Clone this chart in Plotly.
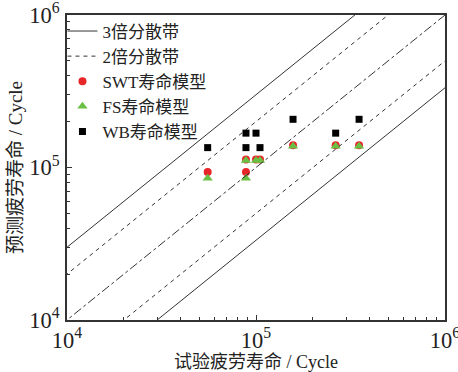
import plotly.graph_objects as go

# Experimental life (x) and predicted life (y) for each model
exp_life = [55500, 88500, 88500, 100000, 105000, 157000, 264000, 351000]
swt_pred = [93400, 93400, 113000, 113000, 113000, 140000, 140000, 140000]
fs_pred = [85000, 85000, 111000, 111000, 111000, 138000, 138000, 138000]
wb_x = [55500, 88500, 100000, 88500, 105000, 157000, 264000, 351000]
wb_pred = [135000, 168000, 168000, 135000, 135000, 207000, 168000, 207000]

band_x = [1e3, 1e7]

font_family = "Liberation Serif, Noto Sans CJK SC, serif"
line_col = "#333333"

fig = go.Figure()

# 3x band
fig.add_trace(go.Scatter(x=band_x, y=[v * 3 for v in band_x], mode="lines",
                         line=dict(color=line_col, width=1), name="3倍分散带"))
# 2x band
fig.add_trace(go.Scatter(x=band_x, y=[v * 2 for v in band_x], mode="lines",
                         line=dict(color=line_col, width=1, dash="4px,4px"), name="2倍分散带"))
fig.add_trace(go.Scatter(x=exp_life, y=swt_pred, mode="markers", name="SWT寿命模型",
                         marker=dict(symbol="circle", size=8, color="#e8262a")))
fig.add_trace(go.Scatter(x=exp_life, y=fs_pred, mode="markers", name="FS寿命模型",
                         marker=dict(symbol="triangle-up", size=9, color="#6abf45")))
fig.add_trace(go.Scatter(x=wb_x, y=wb_pred, mode="markers", name="WB寿命模型",
                         marker=dict(symbol="square", size=7, color="#000000")))
# lower bands and 1:1 line (not in legend)
fig.add_trace(go.Scatter(x=band_x, y=[v / 3 for v in band_x], mode="lines",
                         line=dict(color=line_col, width=1), showlegend=False))
fig.add_trace(go.Scatter(x=band_x, y=[v / 2 for v in band_x], mode="lines",
                         line=dict(color=line_col, width=1, dash="4px,4px"), showlegend=False))
fig.add_trace(go.Scatter(x=band_x, y=[v for v in band_x], mode="lines",
                         line=dict(color=line_col, width=1, dash="dashdot"),
                         showlegend=False))

axis_common = dict(
    type="log", dtick=1, exponentformat="power", showgrid=False, zeroline=False,
    showline=True, linecolor=line_col, linewidth=1.5, mirror=True,
    ticks="inside", ticklen=5, tickcolor=line_col, automargin=False,
    ticklabeloverflow="allow",
    minor=dict(ticks="inside", ticklen=3, tickcolor=line_col),
    tickfont=dict(family=font_family, size=18, color="#222"),
)

fig.update_layout(
    width=458, height=372,
    margin=dict(l=67, r=13, t=15, b=52),
    paper_bgcolor="white", plot_bgcolor="white",
    font=dict(family=font_family, color="#222"),
    xaxis=dict(range=[4, 6], ticklabelstandoff=0,
               title=dict(text="试验疲劳寿命 / Cycle", font=dict(size=18), standoff=2),
               **axis_common),
    yaxis=dict(range=[4, 6], ticklabelstandoff=2,
               title=dict(text="预测疲劳寿命 / Cycle", font=dict(size=19), standoff=2),
               **axis_common),
    legend=dict(x=-0.012, y=1.005, xanchor="left", yanchor="top", bgcolor="rgba(0,0,0,0)",
                font=dict(family=font_family, size=17, color="#222"),
                tracegroupgap=0, itemwidth=30),
)

fig.write_html("out.html")
